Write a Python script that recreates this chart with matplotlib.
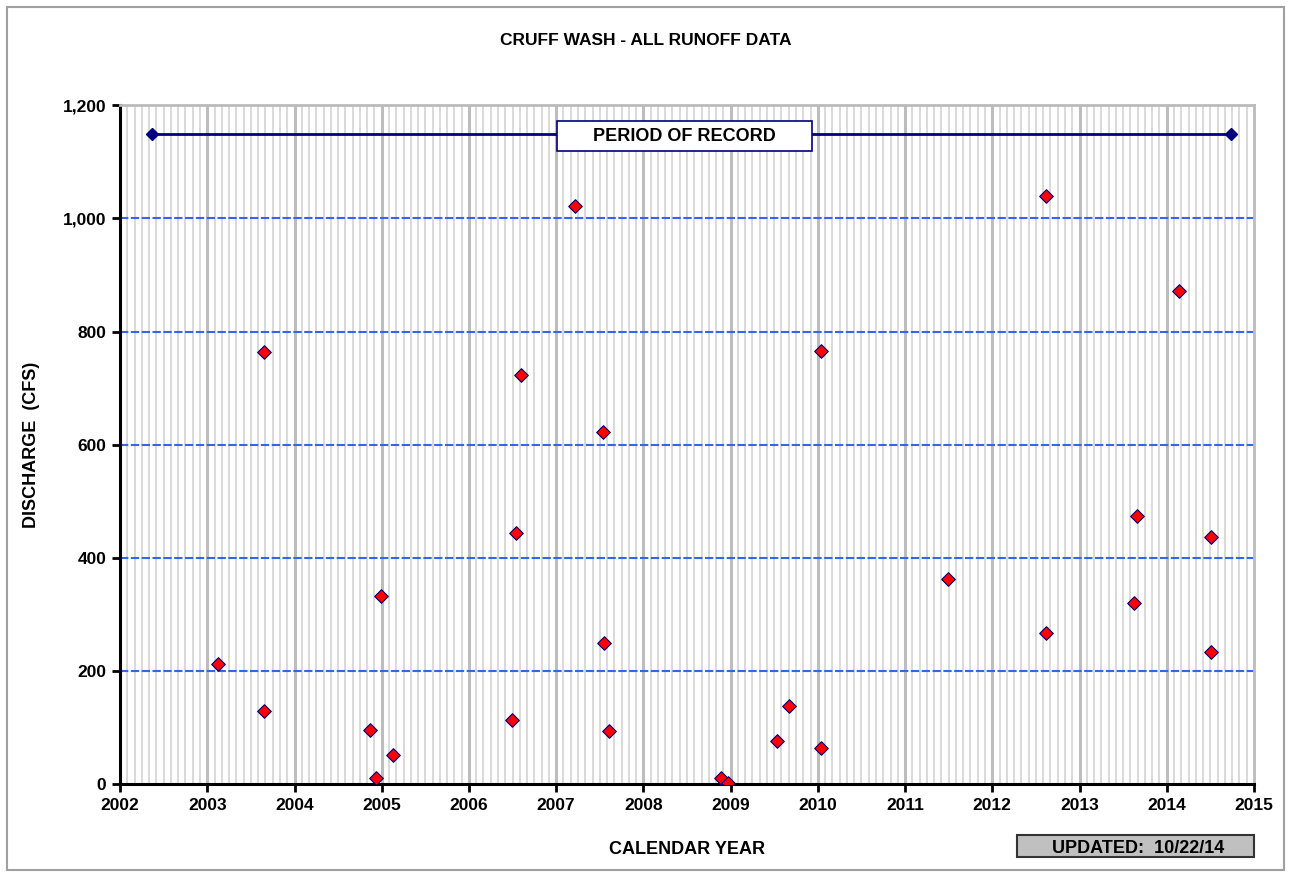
import numpy as np
import matplotlib
matplotlib.use('Agg')
import matplotlib.pyplot as plt
from matplotlib.patches import Rectangle
from matplotlib.ticker import FuncFormatter, MultipleLocator

plt.rcParams['font.family'] = ['Liberation Sans', 'DejaVu Sans']

# runoff events: decimal year, discharge (cfs)
event_year = [2003.12, 2003.65, 2003.65, 2004.87, 2004.93, 2004.99, 2005.13,
              2006.49, 2006.54, 2006.60, 2007.22, 2007.54, 2007.55, 2007.61,
              2008.89, 2008.97, 2009.53, 2009.67, 2010.04, 2010.04, 2011.49,
              2012.62, 2012.62, 2013.62, 2013.66, 2014.14, 2014.51, 2014.51]
discharge = [212, 764, 129, 95, 11, 332, 51,
             113, 444, 723, 1022, 622, 249, 94,
             11, 1, 76, 138, 765, 64, 362,
             1039, 267, 320, 474, 871, 436, 233]

# period of record line
record_years = [2002.37, 2014.74]
record_level = [1150, 1150]

navy = '#000080'

fig = plt.figure(figsize=(12.91, 8.77), dpi=100)
ax = fig.add_axes([0.093, 0.106, 0.8783, 0.774])

# monthly minor grid, yearly major grid
for m in np.arange(2002, 2015, 1 / 12):
    if abs(m - round(m)) < 1e-6:
        continue
    ax.axvline(m, color='#d3d3d3', lw=1.2, zorder=0)
for yr in range(2003, 2015):
    ax.axvline(yr, color='#bdbdbd', lw=2.2, zorder=0)
for yv in range(200, 1201, 200):
    ax.axhline(yv, color='#3366ee', lw=1.5, ls=(0, (4, 1.2)), zorder=1)

ax.plot(record_years, record_level, color=navy, lw=2, marker='D',
        ms=6, mfc=navy, mec=navy, zorder=3)
ax.add_patch(Rectangle((2007.01, 1119), 2.92, 53, fc='white', ec=navy,
                       lw=1.2, zorder=4))
ax.text(2008.47, 1145, 'PERIOD OF RECORD', ha='center', va='center',
        fontsize=13, fontweight='bold', zorder=5)

ax.scatter(event_year, discharge, marker='D', s=48, c='#ff0000',
           edgecolors=navy, linewidths=0.8, zorder=5)

ax.set_xlim(2002, 2015)
ax.set_ylim(0, 1200)
ax.xaxis.set_major_locator(MultipleLocator(1))
ax.yaxis.set_major_locator(MultipleLocator(200))
ax.yaxis.set_major_formatter(FuncFormatter(lambda v, p: f'{int(v):,}'))
ax.tick_params(direction='out', length=6, width=2, labelsize=12.5, pad=4)
for lab in ax.get_xticklabels() + ax.get_yticklabels():
    lab.set_fontweight('bold')

ax.spines['left'].set_linewidth(2.2)
ax.spines['bottom'].set_linewidth(2.2)
for s in ['top', 'right']:
    ax.spines[s].set_color('#bbbbbb')
    ax.spines[s].set_linewidth(2)

ax.set_xlabel('CALENDAR YEAR', fontsize=13, fontweight='bold', labelpad=20)
ax.set_ylabel('DISCHARGE  (CFS)', fontsize=13, fontweight='bold', labelpad=16)
fig.text(0.5, 0.954, 'CRUFF WASH - ALL RUNOFF DATA', ha='center', va='center',
         fontsize=12.5, fontweight='bold')

fig.text(0.8812, 0.033, 'UPDATED:  10/22/14', ha='center', va='center',
         fontsize=13, fontweight='bold')
fig.patches.append(Rectangle((1017 / 1291, 1 - 857 / 877), 237 / 1291, 22 / 877,
                             transform=fig.transFigure, fc='#c0c0c0', ec='#333333',
                             lw=1.5, zorder=0))
fig.patches.append(Rectangle((7 / 1291, 7 / 877), 1277 / 1291, 863 / 877,
                             transform=fig.transFigure, fill=False, ec='#a0a0a0', lw=1.5))

fig.savefig('out.png', dpi=100)
